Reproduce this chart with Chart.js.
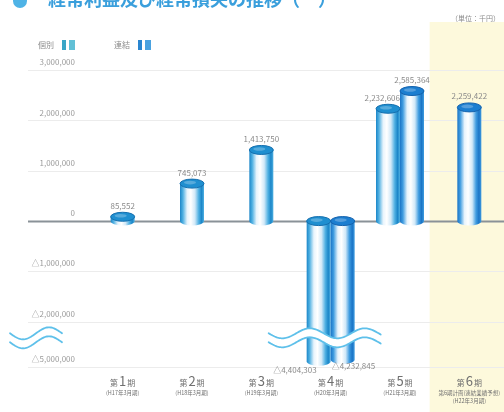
<!DOCTYPE html>
<html lang="ja">
<head>
<meta charset="utf-8">
<title>経常利益の推移</title>
<script src="https://cdn.jsdelivr.net/npm/chart.js@4/dist/chart.umd.min.js"></script>
<style>
  html, body { margin: 0; padding: 0; background: #fff; }
  #wrap { position: relative; width: 504px; height: 412px; }
</style>
</head>
<body>
<div id="wrap"><canvas id="keijoChart" width="504" height="412"></canvas></div>
<script>
// 期ごとの経常利益（単位：千円）
const kiLabels = ['1', '2', '3', '4', '5', '6'];
const kiSubLabels = [
  ['(H17年3月期)'],
  ['(H18年3月期)'],
  ['(H19年3月期)'],
  ['(H20年3月期)'],
  ['(H21年3月期)'],
  ['第6期計画(連結業績予想)', '(H22年3月期)']
];
const kobetsu = [85552, 745073, 1413750, -4404303, 2232606, null];
const renketsu = [null, null, null, -4232845, 2585364, 2259422];
const yTickValues = [3000000, 2000000, 1000000, 0, -1000000, -2000000, -5000000];

const FONT = '"Noto Sans CJK JP", "Noto Sans", sans-serif';

// 波線で省略する位置と、省略後の最下段
const BREAK_AT = -2400000;
const BREAK_FLOOR = -5000000;
const AXIS_FLOOR = -2900000;

const kobetsuTone = { edge: '#1b86c8', mid: '#4fb0e2', cap: '#1f8fd0', rim: '#156fae', swatch: ['#3aa6c6', '#62c0d6'] };
const renketsuTone = { edge: '#1a74c6', mid: '#3f9ce0', cap: '#1c7ed0', rim: '#1462ad', swatch: ['#2a86d0', '#4aa2e0'] };

document.addEventListener('DOMContentLoaded', function() {
  dibujarGrafico();
});

// 実数値 → 軸上の値（省略区間を圧縮）
function toAxis(v) {
  if (v == null) return null;
  if (v >= BREAK_AT) return v;
  return BREAK_AT + (v - BREAK_AT) * (AXIS_FLOOR - BREAK_AT) / (BREAK_FLOOR - BREAK_AT);
}

function fromAxis(a) {
  if (a >= BREAK_AT) return a;
  return BREAK_AT + (a - BREAK_AT) * (BREAK_FLOOR - BREAK_AT) / (AXIS_FLOOR - BREAK_AT);
}

function formatSen(v) {
  const s = Math.abs(Math.round(v)).toLocaleString('ja-JP');
  return v < 0 ? '△' + s : s;
}

// 円柱を1本描く
function drawCylinder(ctx, cx, top, bottom, w, tone) {
  const left = cx - w / 2;
  const ry = 4.5;
  const g = ctx.createLinearGradient(left, 0, left + w, 0);
  g.addColorStop(0, tone.edge);
  g.addColorStop(0.12, tone.mid);
  g.addColorStop(0.3, '#e8f4fc');
  g.addColorStop(0.45, '#ffffff');
  g.addColorStop(0.62, '#d2e9f8');
  g.addColorStop(0.78, tone.mid);
  g.addColorStop(0.9, tone.edge);
  g.addColorStop(1, tone.mid);
  ctx.save();
  ctx.fillStyle = g;
  ctx.beginPath();
  ctx.moveTo(left, top);
  ctx.lineTo(left, bottom);
  ctx.ellipse(cx, bottom, w / 2, ry, 0, Math.PI, 0, true);
  ctx.lineTo(left + w, top);
  ctx.closePath();
  ctx.fill();

  ctx.fillStyle = tone.cap;
  ctx.beginPath();
  ctx.ellipse(cx, top, w / 2, ry, 0, 0, Math.PI * 2);
  ctx.fill();
  ctx.strokeStyle = tone.rim;
  ctx.lineWidth = 1;
  ctx.stroke();
  ctx.fillStyle = 'rgba(255,255,255,0.25)';
  ctx.beginPath();
  ctx.ellipse(cx - 2, top - 1, w / 4, ry / 2.5, 0, 0, Math.PI * 2);
  ctx.fill();
  ctx.restore();
}

// 省略を表す波線
function drawWave(ctx, x0, x1, cy, amp, period) {
  const path = (offset) => {
    ctx.beginPath();
    for (let x = x0; x <= x1; x += 1) {
      const y = cy + offset + amp * Math.sin((x - x0) / period * Math.PI * 2);
      if (x === x0) ctx.moveTo(x, y); else ctx.lineTo(x, y);
    }
  };
  ctx.save();
  ctx.lineCap = 'round';
  ctx.strokeStyle = '#ffffff';
  ctx.lineWidth = 8;
  path(0);
  ctx.stroke();
  ctx.strokeStyle = '#5ec0ea';
  ctx.lineWidth = 1.8;
  path(-4.5);
  ctx.stroke();
  path(4.5);
  ctx.stroke();
  ctx.restore();
}

const kaisetsuPlugin = {
  id: 'kaisetsu',
  beforeDraw(chart) {
    const { ctx, chartArea, scales } = chart;
    const x = scales.x;
    const y = scales.y;
    const step = x.getPixelForValue(1) - x.getPixelForValue(0);

    ctx.save();
    ctx.fillStyle = '#ffffff';
    ctx.fillRect(0, 0, chart.width, chart.height);

    // 第6期（予想）の背景
    ctx.fillStyle = '#fdf9dc';
    const yellowLeft = x.getPixelForValue(5) - step / 2 - 5;
    ctx.fillRect(yellowLeft, 22, chart.width - yellowLeft, chart.height - 22);

    // 目盛り線
    yTickValues.forEach(v => {
      const py = Math.round(y.getPixelForValue(toAxis(v))) + 0.5;
      ctx.beginPath();
      ctx.moveTo(28, py);
      ctx.lineTo(chartArea.right, py);
      if (v === 0) {
        ctx.strokeStyle = '#8a9298';
        ctx.lineWidth = 2;
      } else {
        ctx.strokeStyle = '#ececec';
        ctx.lineWidth = 1;
      }
      ctx.stroke();
    });

    // タイトル
    ctx.fillStyle = '#4fb3e6';
    ctx.beginPath();
    ctx.arc(20, 1, 7, 0, Math.PI * 2);
    ctx.fill();
    ctx.fillStyle = '#3a9fdc';
    ctx.font = `bold 18px ${FONT}`;
    ctx.textBaseline = 'alphabetic';
    ctx.textAlign = 'left';
    ctx.fillText('経常利益及び経常損失の推移（一）', 48, 6);

    // 単位
    ctx.fillStyle = '#8c8c8c';
    ctx.font = `7px ${FONT}`;
    ctx.textAlign = 'right';
    ctx.fillText('（単位：千円）', 500, 21);

    // 凡例
    const legend = [
      { text: '個別', x: 38, tone: kobetsuTone },
      { text: '連結', x: 114, tone: renketsuTone }
    ];
    ctx.font = `8px ${FONT}`;
    ctx.textAlign = 'left';
    legend.forEach(item => {
      ctx.fillStyle = '#8c8c8c';
      ctx.fillText(item.text, item.x, 48);
      const sx = item.x + ctx.measureText(item.text).width + 8;
      ctx.fillStyle = item.tone.swatch[0];
      ctx.fillRect(sx, 40, 4, 10);
      ctx.fillStyle = item.tone.swatch[1];
      ctx.fillRect(sx + 7, 40, 6, 10);
    });

    // 期ラベル
    kiLabels.forEach((n, i) => {
      const cx = x.getPixelForValue(i);
      ctx.fillStyle = '#707070';
      ctx.font = `8px ${FONT}`;
      const wSmall = ctx.measureText('第').width + ctx.measureText('期').width;
      ctx.font = `13px ${FONT}`;
      const wNum = ctx.measureText(n).width;
      let px = cx - (wSmall + wNum + 2) / 2;
      ctx.textAlign = 'left';
      ctx.font = `8px ${FONT}`;
      ctx.fillText('第', px, 386);
      px += ctx.measureText('第').width + 1;
      ctx.font = `13px ${FONT}`;
      ctx.fillText(n, px, 386);
      px += wNum + 1;
      ctx.font = `8px ${FONT}`;
      ctx.fillText('期', px, 386);

      ctx.font = `5.5px ${FONT}`;
      ctx.textAlign = 'center';
      kiSubLabels[i].forEach((line, j) => {
        ctx.fillText(line, cx, 395 + j * 8);
      });
    });
    ctx.restore();
  },
  afterDatasetsDraw(chart) {
    const { ctx, scales } = chart;
    const y = scales.y;

    // 円柱
    chart.data.datasets.forEach((ds, di) => {
      const meta = chart.getDatasetMeta(di);
      meta.data.forEach((bar, i) => {
        if (ds.data[i] == null) return;
        const top = Math.min(bar.y, bar.base);
        const bottom = Math.max(bar.y, bar.base);
        drawCylinder(ctx, bar.x, top, bottom, bar.width, ds.tone);
      });
    });

    // 波線（軸と第4期）
    const breakY = y.getPixelForValue(BREAK_AT) - 4;
    const x4 = scales.x.getPixelForValue(3);
    drawWave(ctx, x4 - 62, x4 + 50, breakY, 5, 55);
    drawWave(ctx, 10, 62, breakY, 6, 52);

    // 数値ラベル
    ctx.save();
    ctx.fillStyle = '#8a8a8a';
    ctx.font = `8px ${FONT}`;
    chart.data.datasets.forEach((ds, di) => {
      const meta = chart.getDatasetMeta(di);
      meta.data.forEach((bar, i) => {
        const v = ds.jitsuchi[i];
        if (v == null) return;
        const paired = kobetsu[i] != null && renketsu[i] != null;
        if (v >= 0) {
          ctx.textBaseline = 'bottom';
          if (paired && di === 0) {
            ctx.textAlign = 'right';
            ctx.fillText(formatSen(v), bar.x + bar.width / 2, bar.y - 7);
          } else {
            ctx.textAlign = 'center';
            ctx.fillText(formatSen(v), bar.x, bar.y - 7);
          }
        } else {
          ctx.textBaseline = 'top';
          if (paired && di === 0) {
            ctx.textAlign = 'right';
            ctx.fillText(formatSen(v), bar.x - 2, bar.y + 5);
          } else {
            ctx.textAlign = 'left';
            ctx.fillText(formatSen(v), bar.x - bar.width / 2 + 1, bar.y + 2);
          }
        }
      });
    });
    ctx.restore();
  }
};

function dibujarGrafico() {
  const ctx = document.getElementById('keijoChart').getContext('2d');
  new Chart(ctx, {
    type: 'bar',
    data: {
      labels: kiLabels,
      datasets: [
        {
          label: '個別',
          data: kobetsu.map(toAxis),
          jitsuchi: kobetsu,
          tone: kobetsuTone,
          backgroundColor: 'rgba(0,0,0,0)',
          skipNull: true,
          barThickness: 24
        },
        {
          label: '連結',
          data: renketsu.map(toAxis),
          jitsuchi: renketsu,
          tone: renketsuTone,
          backgroundColor: 'rgba(0,0,0,0)',
          skipNull: true,
          barThickness: 24
        }
      ]
    },
    options: {
      responsive: false,
      animation: false,
      layout: { padding: { top: 45, bottom: 40, left: 0, right: 0 } },
      plugins: {
        legend: { display: false },
        tooltip: { enabled: false }
      },
      scales: {
        x: { display: false },
        y: {
          min: -3000000,
          max: 3500000,
          afterBuildTicks: function(axis) {
            axis.ticks = yTickValues.map(v => ({ value: toAxis(v) }));
          },
          afterFit: function(axis) {
            axis.width = 88;
          },
          grid: { display: false },
          border: { display: false },
          ticks: {
            padding: 5,
            labelOffset: -8,
            color: '#9a9a9a',
            font: { size: 8, family: FONT },
            callback: function(value) {
              return formatSen(fromAxis(value));
            }
          }
        }
      }
    },
    plugins: [kaisetsuPlugin]
  });
}
</script>
</body>
</html>
